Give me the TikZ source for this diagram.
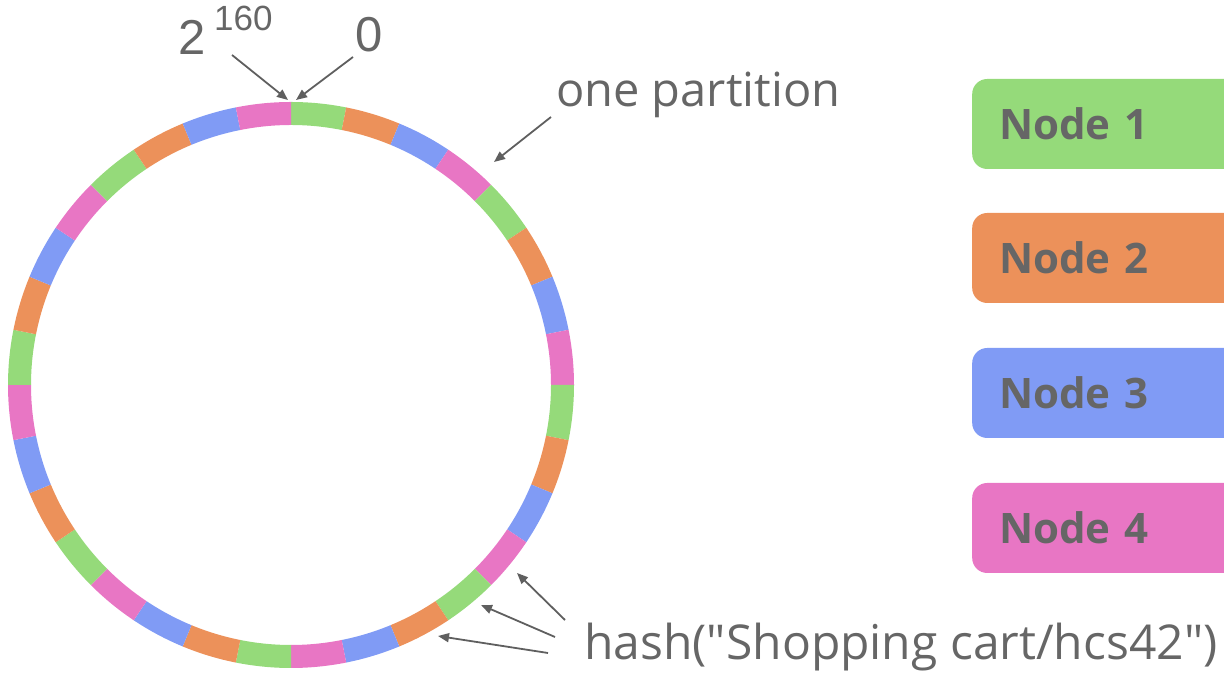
\documentclass[tikz,border=0pt]{standalone}
\usepackage{fontspec}
\setmainfont{Open Sans}
\newfontfamily\keyfont{Open Sans}[Ligatures=TeXOff]
\newfontfamily\digitfont{Liberation Sans}
\usetikzlibrary{arrows.meta}
\definecolor{ngreen}{HTML}{95DA7A}
\definecolor{norange}{HTML}{EC915A}
\definecolor{nblue}{HTML}{809BF5}
\definecolor{npink}{HTML}{E876C4}
\definecolor{labelgray}{HTML}{666666}
\definecolor{arrowgray}{HTML}{5F5F5F}
\tikzset{
  pointer/.style={draw=arrowgray, line width=1.8pt,
    -{Triangle[length=11pt,width=9pt]}},
  caption/.style={text=labelgray, inner sep=0pt, anchor=base west,
    font=\fontsize{47}{50}\selectfont},
  digits/.style={text=labelgray, inner sep=0pt, anchor=base west,
    font=\digitfont\fontsize{49}{52}\selectfont},
  supdigits/.style={text=labelgray, inner sep=0pt, anchor=base west,
    font=\digitfont\fontsize{35}{38}\selectfont},
  nodebox/.style={rounded corners=15pt, minimum height=90pt,
    text width=250pt, inner xsep=27pt, anchor=west, align=left,
    text=labelgray, font=\bfseries\fontsize{42}{46}\selectfont}
}
\begin{document}
\begin{tikzpicture}[x=1pt,y=1pt]
\useasboundingbox (0,0) rectangle (1224,674);
\clip (0,0) rectangle (1224,674);

% hash ring: 32 partitions, owners cycle clockwise from the top
\begin{scope}[shift={(291,289)}]
  \foreach \k in {0,...,7}{
    \foreach \j/\col in {0/ngreen,1/norange,2/nblue,3/npink}{
      \pgfmathsetmacro\a{90-11.25*(4*\k+\j)}
      \pgfmathsetmacro\b{\a-11.25}
      \fill[\col] (\a:283) arc[start angle=\a, end angle=\b, radius=283]
        -- (\b:260) arc[start angle=\b, end angle=\a, radius=260] -- cycle;
    }
  }
\end{scope}

% labels at the top of the ring
\node[digits] (two) at (178,619) {2};
\node[supdigits] (exp) at (214,643) {160};
\node[digits] (zero) at (355,622) {0};
\coordinate (maxstart) at (232,619);
\coordinate (maxend) at (288,574);
\coordinate (zerostart) at (353,617);
\coordinate (zeroend) at (296,574);
\draw[pointer] (maxstart) -- (maxend);
\draw[pointer] (zerostart) -- (zeroend);

% one partition
\node[caption] (part) at (556,567) {one partition};
\coordinate (partstart) at (551,557);
\coordinate (partend) at (494,512);
\draw[pointer] (partstart) -- (partend);

% hashed key and its replicas
\node[caption, font=\keyfont\fontsize{48}{52}\selectfont] (hash) at (584,14)
  {hash("Shopping cart/hcs42")};
\coordinate (hs1) at (565,54);
\coordinate (he1) at (517,101);
\coordinate (hs2) at (555,37);
\coordinate (he2) at (481,69);
\coordinate (hs3) at (548,21);
\coordinate (he3) at (438,38);
\draw[pointer] (hs1) -- (he1);
\draw[pointer] (hs2) -- (he2);
\draw[pointer] (hs3) -- (he3);

% physical nodes
\node[nodebox, fill=ngreen] (node1) at (972,550) {Node 1};
\node[nodebox, fill=norange] (node2) at (972,416) {Node 2};
\node[nodebox, fill=nblue] (node3) at (972,281) {Node 3};
\node[nodebox, fill=npink] (node4) at (972,146) {Node 4};
\end{tikzpicture}
\end{document}
